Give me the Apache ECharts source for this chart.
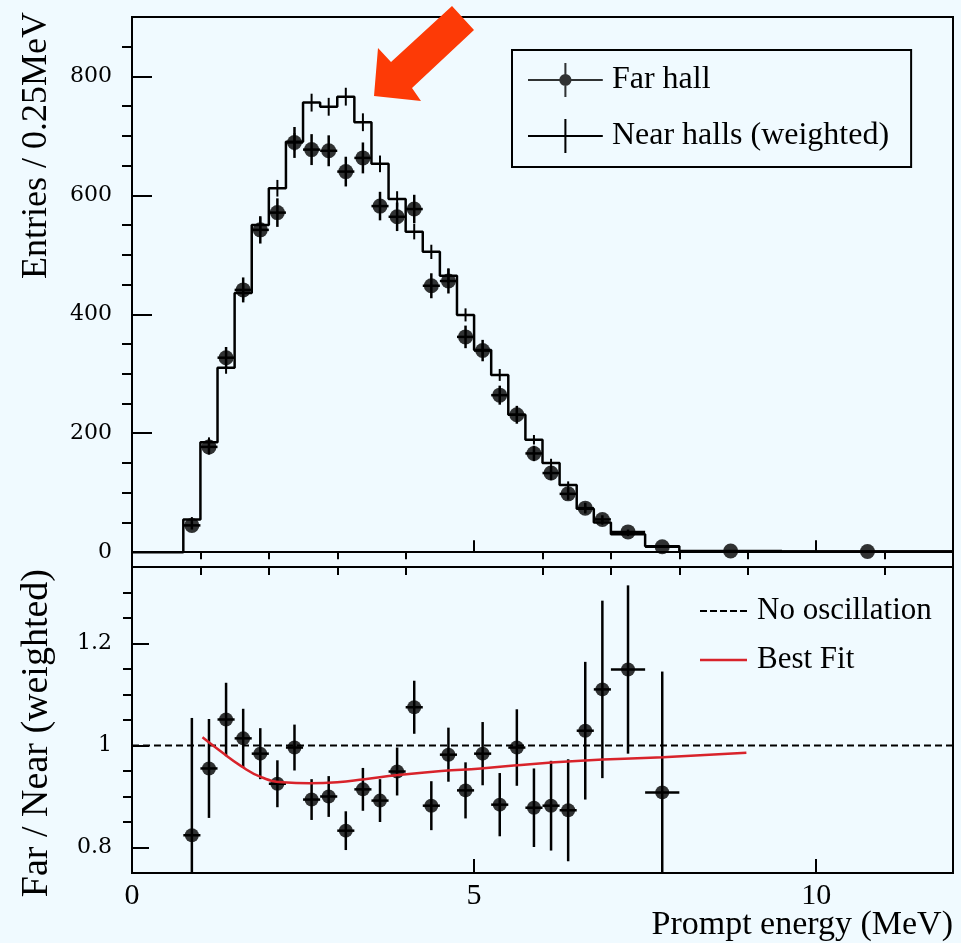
<!DOCTYPE html>
<html>
<head>
<meta charset="utf-8">
<title>Prompt energy spectrum, far / near</title>
<script src="https://cdn.jsdelivr.net/npm/echarts@6/dist/echarts.min.js"></script>
<style>
  html, body { margin: 0; padding: 0; background: #f0faff; }
  #chart { width: 961px; height: 943px; }
</style>
</head>
<body>
<div id="chart"></div>
<script>
// histogram bin edges (MeV)
const binEdges = [0, 0.75, 1, 1.25, 1.5, 1.75, 2, 2.25, 2.5, 2.75, 3, 3.25, 3.5, 3.75, 4,
  4.25, 4.5, 4.75, 5, 5.25, 5.5, 5.75, 6, 6.25, 6.5, 6.75, 7, 7.5, 8, 9.5, 12]
// near halls (weighted), one value per bin
const nearCounts = [0, 55, 185, 310, 436, 550, 612, 690, 756, 749, 766, 723, 653, 594, 539,
  505, 465, 399, 340, 298, 231, 189, 150, 113, 73, 50, 30, 10, 1, 1]
// near error, bins 1..27
const nearErrors = [4, 8, 10, 12, 13, 14, 15, 15, 15, 15, 15, 14, 13, 13, 12, 12, 11, 10, 10,
  9, 8, 7, 6, 5, 4, 3, 2]
// far hall, bins 1..29
const farCounts = [45, 177, 327, 441, 542, 571, 689, 677, 675, 640, 663, 582, 564, 577, 448,
  456, 362, 339, 264, 231, 166, 133, 98, 74, 55, 34, 9, 2, 1]
const farErrors = [7, 13, 18, 21, 23, 24, 26, 26, 26, 25, 26, 24, 24, 24, 21, 21, 19, 18, 16,
  15, 13, 12, 10, 9, 7, 4, 2, 1, 1]
// far / near ratio, bins 1..27
const ratioValues = [0.824, 0.955, 1.051, 1.014, 0.984, 0.925, 0.996, 0.894, 0.900, 0.833,
  0.914, 0.892, 0.949, 1.075, 0.882, 0.982, 0.912, 0.984, 0.884, 0.996, 0.878, 0.882, 0.873,
  1.029, 1.110, 1.149, 0.908]
const ratioErrors = [0.23, 0.097, 0.072, 0.058, 0.05, 0.046, 0.045, 0.04, 0.04, 0.038, 0.042,
  0.042, 0.047, 0.052, 0.048, 0.053, 0.055, 0.062, 0.062, 0.075, 0.077, 0.088, 0.10, 0.135,
  0.174, 0.165, 0.237]
// best fit curve
const fitEnergy = [1.03, 1.3, 1.59, 1.89, 2.2, 2.6, 3.0, 3.4, 3.89, 4.52, 5.1, 5.58, 6.56, 7.76, 8.98]
const fitRatio = [1.016, 0.988, 0.960, 0.938, 0.928, 0.926, 0.928, 0.934, 0.942, 0.950, 0.955,
  0.961, 0.970, 0.977, 0.986]
const noOscEnergy = [0, 12]
const noOscRatio = [1, 1]

// tick labels
const entryTicks = [0, 200, 400, 600, 800]
const entryMinor = [50, 100, 150, 250, 300, 350, 450, 500, 550, 650, 700, 750, 850]
const ratioTicks = [0.8, 1, 1.2]
const ratioMinor = [0.85, 0.9, 0.95, 1.05, 1.1, 1.15, 1.25, 1.3]
const energyTicks = [0, 5, 10]
const energyMinor = [1, 2, 3, 4, 6, 7, 8, 9, 11]

const serif = 'Liberation Serif'
const black = '#000'

function binCenter (i) {
  return (binEdges[i] + binEdges[i + 1]) / 2
}

const nearStep = binEdges.slice(0, -1).map((e, i) => [e, nearCounts[i]])
nearStep.push([binEdges[binEdges.length - 1], nearCounts[nearCounts.length - 1]])

const nearErrData = nearErrors.map((e, k) => [binCenter(k + 1), nearCounts[k + 1], e])
const farData = farCounts.map((v, k) =>
  [binCenter(k + 1), v, binEdges[k + 1], binEdges[k + 2], farErrors[k]])
const ratioData = ratioValues.map((v, k) =>
  [binCenter(k + 1), v, binEdges[k + 1], binEdges[k + 2], ratioErrors[k]])

// vertical + horizontal error bars
function renderErrorCross (params, api) {
  const x = api.value(0)
  const y = api.value(1)
  const c = api.coord([x, y])
  const hi = api.coord([x, y + api.value(4)])
  const lo = api.coord([x, y - api.value(4)])
  const left = api.coord([api.value(2), y])
  const right = api.coord([api.value(3), y])
  const style = { stroke: black, lineWidth: 2.5 }
  return {
    type: 'group',
    children: [
      { type: 'line', shape: { x1: c[0], y1: hi[1], x2: c[0], y2: lo[1] }, style },
      { type: 'line', shape: { x1: left[0], y1: c[1], x2: right[0], y2: c[1] }, style }
    ]
  }
}

// small vertical error on the near histogram
function renderNearErr (params, api) {
  const x = api.value(0)
  const y = api.value(1)
  const hi = api.coord([x, y + api.value(2)])
  const lo = api.coord([x, y - api.value(2)])
  return {
    type: 'line',
    shape: { x1: hi[0], y1: hi[1], x2: lo[0], y2: lo[1] },
    style: { stroke: black, lineWidth: 2 }
  }
}

function majorAxis (grid, min, max, ticks, len, extra) {
  return Object.assign({
    type: 'value',
    gridIndex: grid,
    min: min,
    max: max,
    axisLine: { show: true, lineStyle: { color: black, width: 2 } },
    axisTick: { show: true, inside: true, length: len, customValues: ticks, lineStyle: { color: black, width: 2 } },
    splitLine: { show: false }
  }, extra)
}

function minorAxis (grid, min, max, ticks, len) {
  return {
    type: 'value',
    gridIndex: grid,
    min: min,
    max: max,
    axisLine: { show: false },
    axisTick: { show: true, inside: true, length: len, customValues: ticks, lineStyle: { color: black, width: 2 } },
    axisLabel: { show: false },
    splitLine: { show: false }
  }
}

const farIcon = 'path://M0,47L220,47L220,53L0,53Z M107,0L113,0L113,100L107,100Z M110,32A18,18 0 1 1 109.9,32Z'
const nearIcon = 'path://M0,47L220,47L220,53L0,53Z M107,0L113,0L113,100L107,100Z'
const dashIcon = 'path://M0,0h7v2h-7Z M10,0h7v2h-7Z M20,0h7v2h-7Z M30,0h7v2h-7Z M40,0h7v2h-7Z'
const fitIcon = 'path://M0,0h47v2.5h-47Z'

const chart = echarts.init(document.getElementById('chart'))

const option = {
  backgroundColor: '#f0faff',
  animation: false,
  grid: [
    { left: 132, top: 17, width: 821, height: 550, show: true, borderColor: black, borderWidth: 2, backgroundColor: 'transparent', outerBoundsMode: 'none' },
    { left: 132, top: 567, width: 821, height: 306, show: true, borderColor: black, borderWidth: 2, backgroundColor: 'transparent', outerBoundsMode: 'none' }
  ],
  xAxis: [
    majorAxis(0, 0, 12, energyTicks, 12, { axisLabel: { show: false } }),
    minorAxis(0, 0, 12, energyMinor, 7),
    majorAxis(1, 0, 12, energyTicks, 14, {
      axisLabel: { customValues: energyTicks, fontFamily: serif, fontSize: 30, lineHeight: 22, color: black, margin: 12 }
    }),
    minorAxis(1, 0, 12, energyMinor, 8)
  ],
  yAxis: [
    majorAxis(0, -25, 900, entryTicks, 20, {
      axisLabel: { customValues: entryTicks, fontFamily: 'DejaVu Serif', fontSize: 22, color: black, margin: 20 }
    }),
    minorAxis(0, -25, 900, entryMinor, 10),
    majorAxis(1, 0.75, 1.35, ratioTicks, 17, {
      axisLabel: { customValues: ratioTicks, fontFamily: 'DejaVu Serif', fontSize: 22, color: black, margin: 20 }
    }),
    minorAxis(1, 0.75, 1.35, ratioMinor, 9)
  ],
  legend: [
    {
      data: [{ name: 'Far hall', icon: farIcon }, { name: 'Near halls (weighted)', icon: nearIcon }],
      orient: 'vertical',
      left: 512,
      top: 50,
      itemWidth: 75,
      itemHeight: 34,
      itemGap: 22,
      padding: [13, 22, 14, 16],
      borderColor: black,
      borderWidth: 2,
      selectedMode: false,
      itemStyle: { borderWidth: 0 },
      textStyle: { fontFamily: serif, fontSize: 32, color: black, lineHeight: 34, padding: [0, 0, 0, 4] }
    },
    {
      data: [{ name: 'No oscillation', icon: dashIcon }, { name: 'Best Fit', icon: fitIcon }],
      orient: 'vertical',
      left: 700,
      top: 594,
      itemWidth: 47,
      itemHeight: 34,
      itemGap: 15,
      padding: 0,
      selectedMode: false,
      itemStyle: { borderWidth: 0 },
      textStyle: { fontFamily: serif, fontSize: 31, color: black, lineHeight: 34, padding: [0, 0, 0, 5] }
    }
  ],
  graphic: [
    // arrow pointing at the peak
    {
      type: 'polygon',
      z: 100,
      shape: { points: [[374, 96], [378, 48], [391, 62], [452, 6], [474, 30], [412, 88], [421, 101]] },
      style: { fill: '#fd3a06' }
    },
    // axis titles
    {
      type: 'text',
      x: 55,
      y: 12,
      rotation: Math.PI / 2,
      style: { text: 'Entries / 0.25MeV', font: '36px "Liberation Serif", serif', fill: black, align: 'right', verticalAlign: 'bottom' }
    },
    {
      type: 'text',
      x: 56,
      y: 569,
      rotation: Math.PI / 2,
      style: { text: 'Far / Near (weighted)', font: '38px "Liberation Serif", serif', fill: black, align: 'right', verticalAlign: 'bottom' }
    },
    {
      type: 'text',
      right: 8,
      top: 908,
      style: { text: 'Prompt energy (MeV)', fontFamily: serif, fontSize: 34, fill: black }
    }
  ],
  series: [
    {
      name: 'Near halls (weighted)',
      type: 'line',
      xAxisIndex: 0,
      yAxisIndex: 0,
      step: 'end',
      data: nearStep,
      symbol: 'none',
      color: black,
      lineStyle: { color: black, width: 2.5 },
      z: 2
    },
    {
      name: 'near errors',
      type: 'custom',
      xAxisIndex: 0,
      yAxisIndex: 0,
      data: nearErrData,
      encode: { x: 0, y: 1 },
      renderItem: renderNearErr,
      z: 2
    },
    {
      name: 'far errors',
      type: 'custom',
      xAxisIndex: 0,
      yAxisIndex: 0,
      data: farData,
      encode: { x: 0, y: 1 },
      renderItem: renderErrorCross,
      z: 3
    },
    {
      name: 'Far hall',
      type: 'scatter',
      xAxisIndex: 0,
      yAxisIndex: 0,
      data: farData,
      symbol: 'circle',
      symbolSize: 15,
      color: black,
      itemStyle: { color: black },
      z: 4
    },
    {
      name: 'No oscillation',
      type: 'line',
      xAxisIndex: 2,
      yAxisIndex: 2,
      data: noOscEnergy.map((e, i) => [e, noOscRatio[i]]),
      symbol: 'none',
      color: black,
      lineStyle: { color: black, width: 2, type: [7, 4] },
      z: 2
    },
    {
      name: 'Best Fit',
      type: 'line',
      xAxisIndex: 2,
      yAxisIndex: 2,
      data: fitEnergy.map((e, i) => [e, fitRatio[i]]),
      symbol: 'none',
      smooth: 0.5,
      color: '#d8232b',
      lineStyle: { color: '#d8232b', width: 2.5 },
      z: 5
    },
    {
      name: 'ratio errors',
      type: 'custom',
      xAxisIndex: 2,
      yAxisIndex: 2,
      data: ratioData,
      encode: { x: 0, y: 1 },
      renderItem: renderErrorCross,
      clip: true,
      z: 3
    },
    {
      name: 'Far / Near',
      type: 'scatter',
      xAxisIndex: 2,
      yAxisIndex: 2,
      data: ratioData,
      symbol: 'circle',
      symbolSize: 14,
      itemStyle: { color: black },
      z: 4
    }
  ]
}

chart.setOption(option)
</script>
</body>
</html>
